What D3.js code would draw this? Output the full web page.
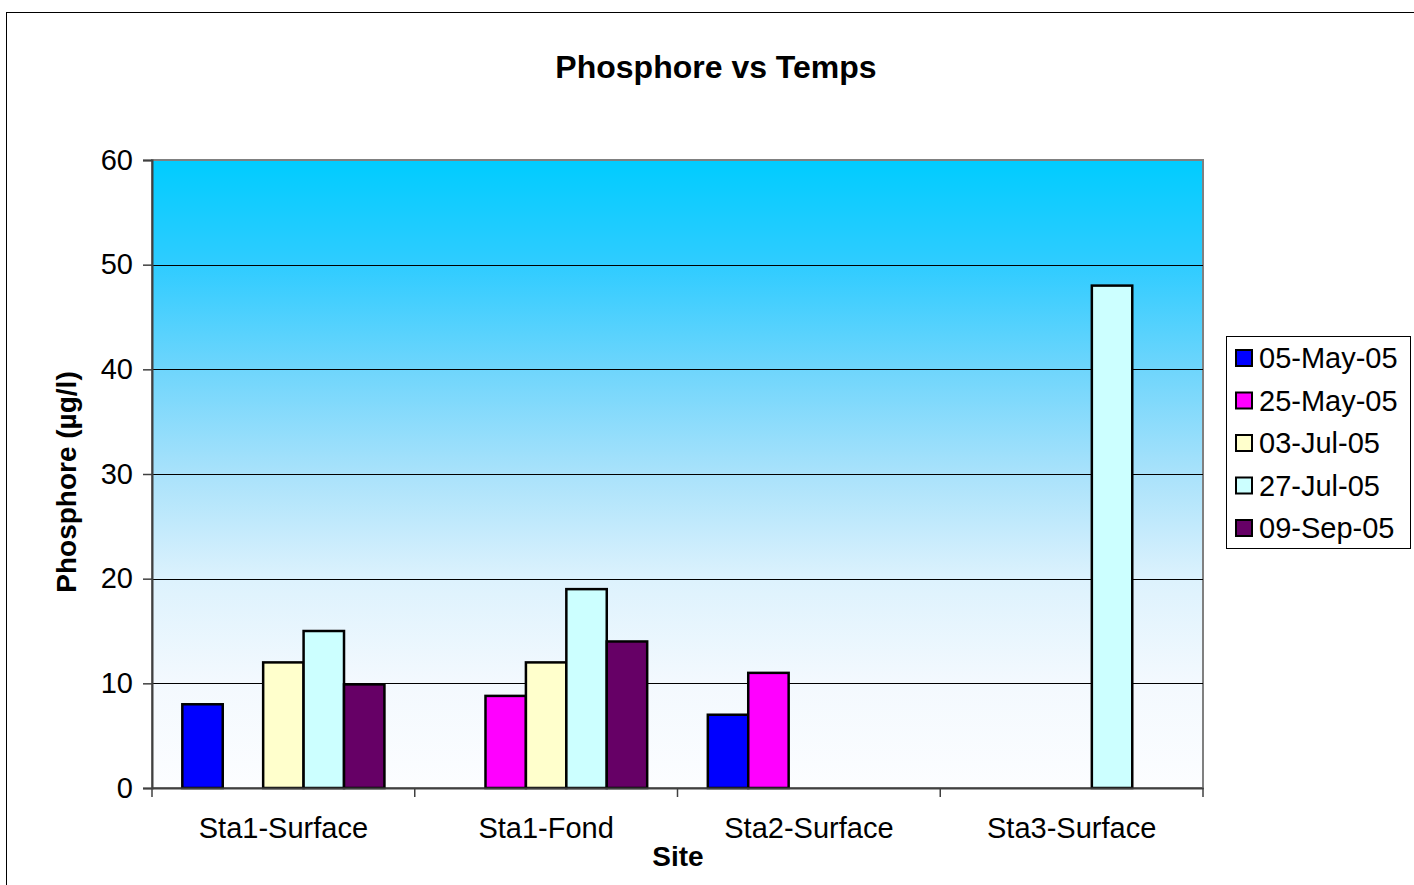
<!DOCTYPE html>
<html lang="en">
  <head>
    <meta charset="UTF-8" />
    <script src="https://d3js.org/d3.v7.min.js"></script>
    <title>Phosphore vs Temps</title>
    <style>
      body { margin: 0; background: #fff; }
      text { font-family: "Liberation Sans", Arial, sans-serif; }
    </style>
  </head>
  <body>
    <svg id="chart" width="1414" height="885"></svg>

    <script>
      // data
      const sites = ["Sta1-Surface", "Sta1-Fond", "Sta2-Surface", "Sta3-Surface"];
      const dates = ["05-May-05", "25-May-05", "03-Jul-05", "27-Jul-05", "09-Sep-05"];
      const colors = ["#0000FF", "#FF00FF", "#FFFFCC", "#CCFFFF", "#660066"];
      const may05 = [8, null, 7, null];
      const may25 = [null, 8.8, 11, null];
      const jul03 = [12, 12, null, null];
      const jul27 = [15, 19, null, 48];
      const sep09 = [9.9, 14, null, null];
      const yTicks = [0, 10, 20, 30, 40, 50, 60];

      const seriesValues = [may05, may25, jul03, jul27, sep09];

      const svg = d3.select("#chart");
      const plot = { left: 152, top: 160, right: 1203, bottom: 788 };

      const x0 = d3.scaleBand().domain(sites).range([plot.left, plot.right]);
      const x1 = d3.scaleBand().domain(dates).range([0, x0.bandwidth()])
        .paddingInner(0).paddingOuter(0.75);
      const y = d3.scaleLinear().domain([0, 60]).range([plot.bottom, plot.top]);

      // outer chart border
      svg.append("rect")
        .attr("x", 6.5).attr("y", 12.5)
        .attr("width", 1430).attr("height", 900)
        .attr("fill", "#fff").attr("stroke", "#000").attr("stroke-width", 1);

      // background gradient (fades to white fast, Excel-style)
      const grad = svg.append("defs").append("linearGradient")
        .attr("id", "bg").attr("x1", 0).attr("y1", 0).attr("x2", 0).attr("y2", 1);
      [["0%", "#00CCFF"], ["17%", "#30CCFF"], ["33%", "#6DD5FC"], ["50%", "#A9E2FB"],
       ["67%", "#DDF2FD"], ["83%", "#F3F9FE"], ["100%", "#FCFDFF"]]
        .forEach(s => grad.append("stop").attr("offset", s[0]).attr("stop-color", s[1]));

      svg.append("rect")
        .attr("x", plot.left).attr("y", plot.top)
        .attr("width", plot.right - plot.left).attr("height", plot.bottom - plot.top)
        .attr("fill", "url(#bg)")
        .attr("stroke", "#808080").attr("stroke-width", 2);

      // gridlines
      svg.append("g")
        .selectAll("line")
        .data(yTicks.filter(d => d > 0 && d < 60))
        .enter()
        .append("line")
        .attr("x1", plot.left).attr("x2", plot.right)
        .attr("y1", d => Math.round(y(d)) + 0.5).attr("y2", d => Math.round(y(d)) + 0.5)
        .attr("stroke", "#000").attr("stroke-width", 1);

      // bars
      const groups = svg.append("g")
        .selectAll("g")
        .data(dates)
        .enter()
        .append("g");

      groups.selectAll("rect")
        .data((d, i) => sites.map((s, j) => ({ site: s, date: d, value: seriesValues[i][j], color: colors[i] })))
        .enter()
        .filter(d => d.value !== null)
        .append("rect")
        .attr("x", d => x0(d.site) + x1(d.date))
        .attr("y", d => y(d.value))
        .attr("width", x1.bandwidth())
        .attr("height", d => y(0) - y(d.value))
        .attr("fill", d => d.color)
        .attr("stroke", "#000")
        .attr("stroke-width", 2.5);

      // y axis
      const yAxis = svg.append("g")
        .attr("transform", `translate(${plot.left},0)`)
        .call(d3.axisLeft(y).tickValues(yTicks).tickSize(9).tickPadding(10));
      yAxis.select(".domain").attr("stroke", "#404040").attr("stroke-width", 2);
      yAxis.selectAll(".tick line").attr("stroke", "#404040").attr("stroke-width", 1.5);
      yAxis.selectAll("text")
        .attr("font-size", 29).attr("fill", "#000")
        .style("font-family", "'Liberation Sans', Arial, sans-serif");

      // x axis
      const xAxis = svg.append("g")
        .attr("transform", `translate(0,${plot.bottom})`)
        .call(d3.axisBottom(x0).tickSize(0).tickPadding(29));
      xAxis.select(".domain").attr("stroke", "#404040").attr("stroke-width", 2);
      xAxis.selectAll("text")
        .attr("font-size", 29).attr("fill", "#000")
        .style("font-family", "'Liberation Sans', Arial, sans-serif");

      // category separator ticks
      const bounds = sites.map(s => x0(s)).concat([plot.right]);
      svg.append("g")
        .selectAll("line")
        .data(bounds)
        .enter()
        .append("line")
        .attr("x1", d => d).attr("x2", d => d)
        .attr("y1", plot.bottom).attr("y2", plot.bottom + 9)
        .attr("stroke", "#404040").attr("stroke-width", 1.5);

      // title
      svg.append("text")
        .attr("x", 716).attr("y", 78)
        .attr("text-anchor", "middle")
        .attr("font-size", 32).attr("font-weight", "bold")
        .text("Phosphore vs Temps");

      // axis titles
      svg.append("text")
        .attr("x", 678).attr("y", 866)
        .attr("text-anchor", "middle")
        .attr("font-size", 28).attr("font-weight", "bold")
        .text("Site");

      svg.append("text")
        .attr("transform", `translate(76,${(plot.top + plot.bottom) / 2 + 8}) rotate(-90)`)
        .attr("text-anchor", "middle")
        .attr("font-size", 28).attr("font-weight", "bold")
        .text("Phosphore (µg/l)");

      // legend
      const legend = svg.append("g").attr("transform", "translate(1226,336)");
      legend.append("rect")
        .attr("x", 0.5).attr("y", 0.5).attr("width", 184).attr("height", 212)
        .attr("fill", "#fff").attr("stroke", "#000").attr("stroke-width", 1);

      const items = legend.selectAll("g.item")
        .data(dates)
        .enter()
        .append("g")
        .attr("class", "item")
        .attr("transform", (d, i) => `translate(0,${22 + i * 42.5})`);

      items.append("rect")
        .attr("x", 10).attr("y", -8).attr("width", 16).attr("height", 16)
        .attr("fill", (d, i) => colors[i])
        .attr("stroke", "#000").attr("stroke-width", 2);

      items.append("text")
        .attr("x", 33).attr("y", 10)
        .attr("font-size", 29)
        .text(d => d);
    </script>
  </body>
</html>
